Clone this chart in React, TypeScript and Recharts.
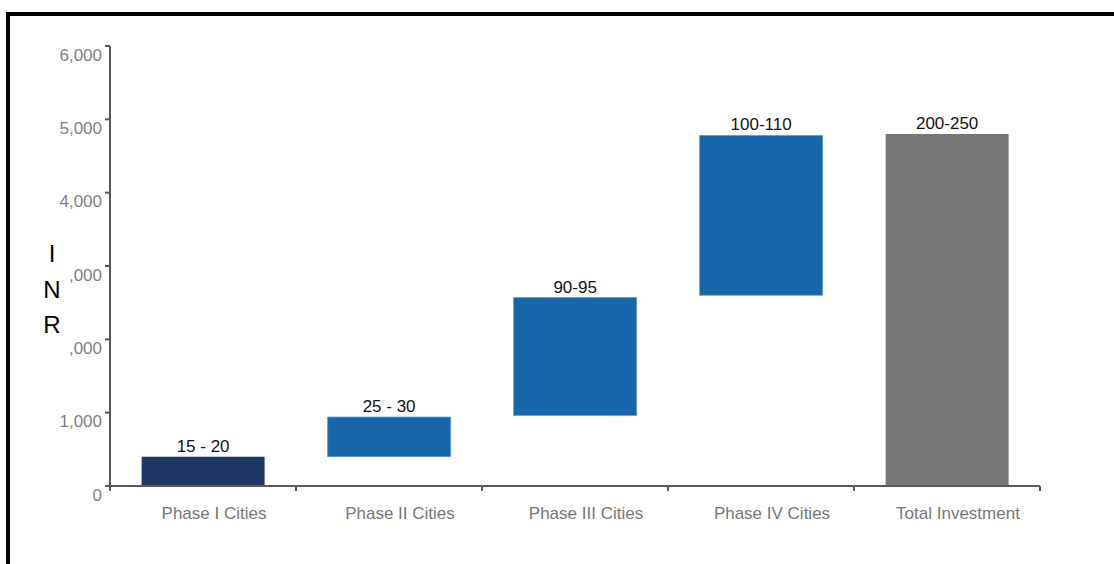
import React from "react";
import { BarChart, Bar, XAxis, YAxis, Cell, LabelList } from "recharts";

const phases = [
  "Phase I Cities",
  "Phase II Cities",
  "Phase III Cities",
  "Phase IV Cities",
  "Total Investment",
];
const lows = [0, 400, 960, 2600, 0];
const highs = [400, 940, 2570, 4780, 4800];
const rangeLabels = ["15 - 20", "25 - 30", "90-95", "100-110", "200-250"];
const yTicks = [0, 1000, 2000, 3000, 4000, 5000, 6000];

const colors = ["#1E3764", "#1866AA", "#1866AA", "#1866AA", "#777777"];

const W = 1114;
const H = 564;
const X_H = 30;
const M = { top: 46, right: 74, bottom: 78 - X_H, left: 0 };
const Y_W = 110;
const BAND = (W - M.left - Y_W - M.right) / phases.length;

const data = phases.map((name, i) => ({
  name,
  range: [lows[i], highs[i]],
  label: rangeLabels[i],
}));

const FONT = "'Liberation Sans', Arial, sans-serif";

const fmt = (v: number) => v.toLocaleString("en-US");

const YTick = ({ x, y, payload }: any) => (
  <text
    x={x - 1}
    y={y + 14.5}
    textAnchor="end"
    fontFamily={FONT}
    fontSize={17}
    fill="#7F7F7F"
  >
    {fmt(payload.value)}
  </text>
);

// category labels sit a little right of the bar centre in the original
const XTick = ({ x, y, payload, index }: any) => (
  <g>
    <line
      x1={x - BAND / 2}
      x2={x - BAND / 2}
      y1={y - 8}
      y2={y - 3}
      stroke="#595959"
      strokeWidth={2}
    />
    {index === phases.length - 1 && (
      <line
        x1={x + BAND / 2}
        x2={x + BAND / 2}
        y1={y - 8}
        y2={y - 3}
        stroke="#595959"
        strokeWidth={2}
      />
    )}
    <text
      x={x + 11}
      y={y + 25}
      textAnchor="middle"
      fontFamily={FONT}
      fontSize={17}
      fill="#767676"
    >
      {payload.value}
    </text>
  </g>
);

const RangeLabel = ({ x, y, width, index }: any) => (
  <text
    x={x + width / 2}
    y={y - 5}
    textAnchor="middle"
    fontFamily={FONT}
    fontSize={17}
    fill="#111111"
  >
    {rangeLabels[index]}
  </text>
);

// text box for the unit, white filled, sits over the axis labels
const UnitLabel = () => (
  <svg
    width={80}
    height={140}
    style={{ position: "absolute", left: 0, top: 225 }}
  >
    <rect x={28} y={7} width={41} height={125} fill="#ffffff" />
    {["I", "N", "R"].map((ch, i) => (
      <text
        key={ch}
        x={52}
        y={37 + i * 35.5}
        textAnchor="middle"
        fontFamily={FONT}
        fontSize={24}
        fill="#000000"
      >
        {ch}
      </text>
    ))}
  </svg>
);

export default function App() {
  return (
    <div
      style={{
        position: "fixed",
        left: 0,
        top: 0,
        width: W,
        height: H,
        overflow: "hidden",
        background: "#fff",
      }}
    >
      <div
        style={{
          position: "absolute",
          left: 6,
          top: 12,
          width: 1200,
          height: 700,
          border: "4px solid #000",
          boxSizing: "border-box",
        }}
      />
      <div style={{ position: "absolute", left: 0, top: 0 }}>
        <BarChart
          width={W}
          height={H}
          data={data}
          margin={M}
          barCategoryGap="17%"
        >
          <XAxis
            dataKey="name"
            height={X_H}
            axisLine={{ stroke: "#595959", strokeWidth: 2 }}
            tickLine={false}
            tick={<XTick />}
            interval={0}
          />
          <YAxis
            width={Y_W}
            domain={[0, 6000]}
            ticks={yTicks}
            interval={0}
            axisLine={{ stroke: "#595959", strokeWidth: 2 }}
            tickLine={{ stroke: "#595959", strokeWidth: 2 }}
            tickSize={5}
            tick={<YTick />}
          />
          <Bar dataKey="range" isAnimationActive={false}>
            {data.map((d, i) => (
              <Cell
                key={d.name}
                fill={colors[i]}
                stroke={i > 0 && i < 4 ? "#5B9BD5" : "none"}
                strokeWidth={0.8}
              />
            ))}
            <LabelList dataKey="label" content={<RangeLabel />} />
          </Bar>
        </BarChart>
      </div>
      <UnitLabel />
    </div>
  );
}
